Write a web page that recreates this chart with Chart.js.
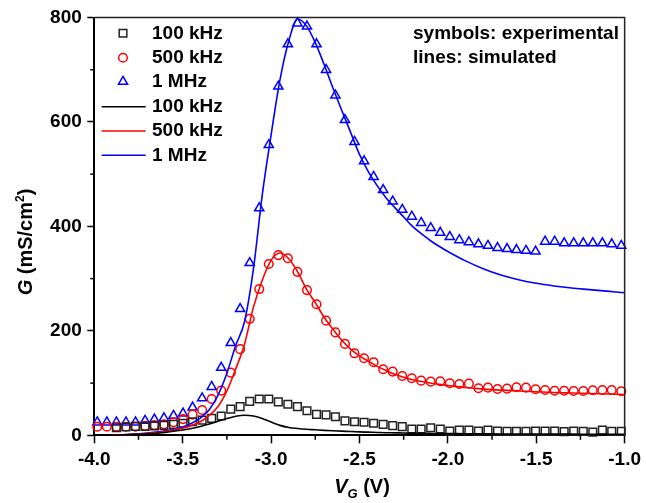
<!DOCTYPE html>
<html><head><meta charset="utf-8">
<script src="https://cdn.jsdelivr.net/npm/chart.js@4/dist/chart.umd.min.js"></script>
<style>html,body{margin:0;padding:0;background:#fff;}canvas{display:block;}</style>
</head><body>
<canvas id="c" width="646" height="503"></canvas>
<script>
// ---------- data ----------
const expV = [-3.983,-3.929,-3.875,-3.821,-3.767,-3.713,-3.660,-3.606,-3.552,-3.498,-3.444,-3.390,-3.336,-3.282,-3.228,-3.175,-3.121,-3.067,-3.013,-2.959,-2.905,-2.851,-2.797,-2.743,-2.689,-2.636,-2.582,-2.528,-2.474,-2.420,-2.366,-2.312,-2.258,-2.204,-2.151,-2.097,-2.043,-1.989,-1.935,-1.881,-1.827,-1.773,-1.719,-1.665,-1.612,-1.558,-1.504,-1.450,-1.396,-1.342,-1.288,-1.234,-1.180,-1.126,-1.073,-1.019];
const g100Exp = [null,null,14.5,16,17,17,18,19,21,23,26,29,32.5,37,50,55,65,69.5,69.5,64,59.5,55,47,40,39,35.5,27.5,26,25,23,21,18.5,16.5,12,12,14.5,12,8,10,10,8,10,8,7.5,7.5,7.5,8,8,8,7,8,7.5,6,10,7.5,7.5];
const g500Exp = [16.5,16.5,16.5,16.5,16.5,18,19.5,21,25,31,39.5,48.5,69.5,85.5,120,165,223,280,328,345,339,313,278,251,219.5,197,175,157,147.5,140,126.5,122,113.6,109.2,104.6,102.7,103.4,99.6,98.3,98.9,90,91.2,88.7,89.3,92,91.2,88.1,86.8,85.4,85.4,84.9,84.9,86.2,86.8,86.8,84.3];
const g1MExp = [25,25,25,25,25,28,30.5,33,37.5,42,53.5,71,93,129.5,177,242,330,435,556,668,749,789,783,749,700,651,604,562,525,495,470,448,432,419,407,397,388,380,374,370,366,363,359,357,355,353.5,352,371,371,368,368,368,368,368,366,363];

const simV = [-3.91,-3.8,-3.7,-3.6,-3.5,-3.45,-3.4,-3.35,-3.3,-3.25,-3.2,-3.15,-3.1,-3.05,-3.0,-2.95,-2.9,-2.85,-2.8,-2.75,-2.7,-2.65,-2.6,-2.55,-2.5,-2.45,-2.4,-2.35,-2.3,-2.25,-2.2,-2.15,-2.1,-2.05,-2.0,-1.9,-1.8,-1.7,-1.6,-1.5,-1.4,-1.3,-1.2,-1.1,-1.0];
const g100Sim = [0,1.5,3,5.5,10,13,17,21.5,27,32,36.5,38.5,37,32,25.5,19,15,13,11.5,10.5,9.5,8.7,8,7.2,6.5,6,5.5,5,4.7,4.4,4,3.8,3.6,3.4,3.3,3,2.8,2.6,2.5,2.4,2.3,2.2,2.1,2,2];
const g500Sim = [0.3,1.5,3.5,7,13.5,19,26,38,55,85,127,175,245,297,335,349,338,313,280,254,226,203,182,165,152,142,132,124,117,111,106.5,103,100,97.5,95.5,91.5,88.5,86.5,85,83.5,82,81,80,79,78];
const g1MSim = [0.5,2,4.5,8.5,16,23,33,49,77,119,172,218,318,460,575,680,755,797,784,752,710,665,622,580,538,505,478,455,436,418,400,386,373,362,352,334,319,307,298,291,286,282,279,276,273];

const seriesNames = ['100 kHz','500 kHz','1 MHz'];
const xTickValues = [-4.0,-3.5,-3.0,-2.5,-2.0,-1.5,-1.0];
const xMinorValues = [-3.75,-3.25,-2.75,-2.25,-1.75,-1.25];
const yTickValues = [0,200,400,600,800];
const yMinorValues = [100,300,500,700];
const noteLines = ['symbols: experimental','lines: simulated'];

// ---------- styling ----------
const FF = '"Liberation Sans", Arial, Helvetica, sans-serif';
const COLORS = ['#222222','#ff0000','#0000ff'];
const LINECOLORS = ['#000000','#ff0000','#0000ff'];
const STYLES = ['rect','circle','triangle'];
const RADII = [5.4,4.3,5.3];

function pts(xs, ys){ const o=[]; for(let i=0;i<xs.length;i++){ if(ys[i]!==null) o.push({x:xs[i],y:ys[i]}); } return o; }

const expSets = [g100Exp,g500Exp,g1MExp].map((arr,k)=>({
  label: seriesNames[k]+' exp', data: pts(expV,arr), showLine:false,
  pointStyle: STYLES[k], pointRadius: RADII[k], pointBorderColor: COLORS[k],
  pointBackgroundColor:'rgba(0,0,0,0)', pointBorderWidth:1.5, clip:false, order:2
}));
const simSets = [g100Sim,g500Sim,g1MSim].map((arr,k)=>({
  label: seriesNames[k]+' sim', data: pts(simV,arr), showLine:true,
  borderColor: LINECOLORS[k], borderWidth:1.6, pointRadius:0, fill:false,
  cubicInterpolationMode:'monotone', clip:false, order:1
}));

function drawMarker(ctx, style, x, y, r, color){
  ctx.save(); ctx.strokeStyle=color; ctx.lineWidth=1.5; ctx.beginPath();
  if(style==='rect'){ const s=r/Math.SQRT2; ctx.rect(x-s,y-s,2*s,2*s); }
  else if(style==='circle'){ ctx.arc(x,y,r,0,Math.PI*2); }
  else { for(let i=0;i<3;i++){ const a=i*2*Math.PI/3; const px=x+Math.sin(a)*r, py=y-Math.cos(a)*r; if(i===0) ctx.moveTo(px,py); else ctx.lineTo(px,py);} ctx.closePath(); }
  ctx.stroke(); ctx.restore();
}
function drawParts(ctx, parts, x, y){
  let total=0; parts.forEach(p=>{ctx.font=p.f; p.w=ctx.measureText(p.t).width; total+=p.w;});
  let cx = x - total/2;
  parts.forEach(p=>{ ctx.font=p.f; ctx.fillText(p.t, cx, y + (p.dy||0)); cx += p.w; });
}

const decor = {
  id:'decor',
  afterDraw(chart){
    const ctx=chart.ctx, a=chart.chartArea, xs=chart.scales.x, ys=chart.scales.y;
    ctx.save();
    ctx.strokeStyle='#222'; ctx.lineWidth=1.5;
    ctx.beginPath(); ctx.moveTo(a.left,a.top); ctx.lineTo(a.right,a.top); ctx.lineTo(a.right,a.bottom); ctx.stroke();
    ctx.strokeStyle='#000'; ctx.lineWidth=1.5;
    xMinorValues.forEach(v=>{ const p=xs.getPixelForValue(v); ctx.beginPath(); ctx.moveTo(p,a.bottom); ctx.lineTo(p,a.bottom+4.5); ctx.stroke(); });
    yMinorValues.forEach(v=>{ const p=ys.getPixelForValue(v); ctx.beginPath(); ctx.moveTo(a.left,p); ctx.lineTo(a.left-4,p); ctx.stroke(); });
    ctx.fillStyle='#000'; ctx.textBaseline='middle'; ctx.textAlign='left';
    ctx.font='bold 19px '+FF;
    const rowY=[33.3,57.7,81.7,106.7,131,155.3];
    for(let k=0;k<3;k++){
      drawMarker(ctx, STYLES[k], 123, rowY[k], RADII[k], COLORS[k]);
      ctx.fillText(seriesNames[k], 152, rowY[k]);
    }
    for(let k=0;k<3;k++){
      ctx.strokeStyle=LINECOLORS[k]; ctx.lineWidth=1.6;
      ctx.beginPath(); ctx.moveTo(101.7,rowY[k+3]); ctx.lineTo(145.7,rowY[k+3]); ctx.stroke();
      ctx.fillText(seriesNames[k], 152, rowY[k+3]);
    }
    ctx.fillText(noteLines[0], 413, 33.3);
    ctx.fillText(noteLines[1], 413, 57.7);
    ctx.textBaseline='alphabetic';
    drawParts(ctx, [
      {t:'V', f:'italic bold 20px '+FF},
      {t:'G', f:'italic bold 13px '+FF, dy:5},
      {t:' (V)', f:'bold 20px '+FF}
    ], 362, 493);
    ctx.translate(32, 242); ctx.rotate(-Math.PI/2);
    drawParts(ctx, [
      {t:'G', f:'italic bold 20px '+FF},
      {t:' (mS/cm', f:'bold 20px '+FF},
      {t:'2', f:'bold 12px '+FF, dy:-8},
      {t:')', f:'bold 20px '+FF}
    ], 0, 0);
    ctx.restore();
  }
};

const tickFont = {family:FF, size:19, weight:'bold'};
new Chart(document.getElementById('c').getContext('2d'), {
  type:'scatter',
  data:{datasets:[...expSets, ...simSets]},
  options:{
    responsive:false, animation:false, devicePixelRatio:1,
    layout:{padding:{left:0,right:19,top:17.5,bottom:0}},
    plugins:{legend:{display:false}, tooltip:{enabled:false}},
    scales:{
      x:{type:'linear', min:-4, max:-1,
        afterBuildTicks:s=>{ s.ticks = xTickValues.map(v=>({value:v})); },
        afterFit:s=>{ s.height = 67.7; },
        ticks:{callback:v=>Number(v).toFixed(1), font:tickFont, color:'#000', padding:5, maxRotation:0, autoSkip:false},
        grid:{drawOnChartArea:false, drawTicks:true, tickLength:8, tickColor:'#000', tickWidth:1.5},
        border:{display:true, color:'#000', width:2}},
      y:{type:'linear', min:0, max:800,
        afterBuildTicks:s=>{ s.ticks = yTickValues.map(v=>({value:v})); },
        afterFit:s=>{ s.width = 94.3; },
        ticks:{callback:v=>String(v), font:tickFont, color:'#000', padding:5.5, autoSkip:false},
        grid:{drawOnChartArea:false, drawTicks:true, tickLength:7, tickColor:'#000', tickWidth:1.5},
        border:{display:true, color:'#000', width:2}}
    }
  },
  plugins:[decor]
});
</script></body></html>
